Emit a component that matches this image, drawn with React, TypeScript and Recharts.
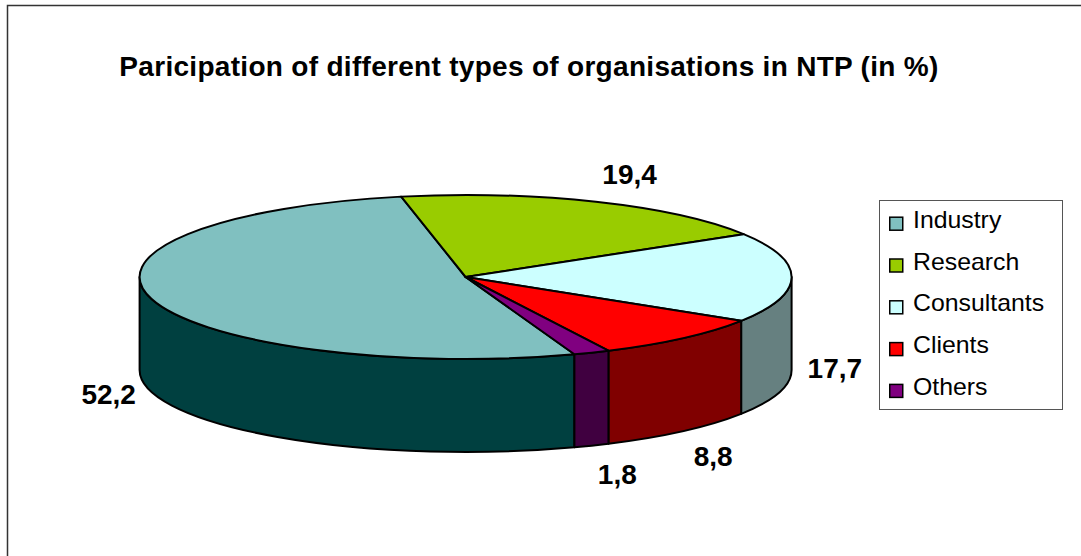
import { PieChart, Pie, Legend } from "recharts";

// ── data ──────────────────────────────────────────────────────────────────────

const categories = ["Industry", "Research", "Consultants", "Clients", "Others"];
const shares = [52.2, 19.4, 17.7, 8.8, 1.8];
const topColors = ["#80C0C0", "#99CC00", "#CCFFFF", "#FF0000", "#800080"];
const sideColors = ["#004040", "#4D6600", "#668080", "#800000", "#400040"];

const chartData = categories.map((name, i) => ({ name, value: shares[i] }));

// ── layout ────────────────────────────────────────────────────────────────────

const W = 1081;
const H = 556;
const CX = 465.6;
const CY = 277;
const RADIUS = 326;
const TILT = 0.2515; // vertical squash of the top face
const DEPTH = 93; // height of the side wall
const FIRST_ANGLE = -70.5; // Excel "first slice angle" ≈ 160.5° clockwise from 12 o'clock
const FONT = "Arial, 'Liberation Sans', sans-serif";

// ── helpers ───────────────────────────────────────────────────────────────────

const rad = (d: number) => (d * Math.PI) / 180;

function pt(cx: number, cy: number, rx: number, ry: number, deg: number, dy = 0) {
  return [cx + rx * Math.cos(rad(deg)), cy - ry * Math.sin(rad(deg)) + dy];
}

function fmt(n: number) {
  return n.toFixed(1).replace(".", ",");
}

// parts of [lo, hi] (math degrees) that face the viewer
function frontRanges(lo: number, hi: number) {
  const out: [number, number][] = [];
  for (let k = -2; k <= 2; k++) {
    const a = Math.max(lo, -180 + 360 * k);
    const b = Math.min(hi, 360 * k);
    if (b - a > 0.01) out.push([a, b]);
  }
  return out;
}

// ── 3D slice, drawn from the sector geometry Recharts computes ───────────────

function renderSlice(props: any) {
  const { cx, cy, outerRadius, startAngle, endAngle, midAngle, index, value } = props;
  const rx = outerRadius;
  const ry = outerRadius * TILT;
  const hi = Math.max(startAngle, endAngle);
  const lo = Math.min(startAngle, endAngle);
  const large = hi - lo > 180 ? 1 : 0;

  const sides = frontRanges(lo, hi).map(([a, b], k) => {
    const [x0, y0] = pt(cx, cy, rx, ry, a);
    const [x1, y1] = pt(cx, cy, rx, ry, b);
    const [x2, y2] = pt(cx, cy, rx, ry, b, DEPTH);
    const [x3, y3] = pt(cx, cy, rx, ry, a, DEPTH);
    const d = `M${x0},${y0} A${rx},${ry} 0 0 0 ${x1},${y1} L${x2},${y2} A${rx},${ry} 0 0 1 ${x3},${y3} Z`;
    return (
      <path key={k} d={d} fill={sideColors[index]} stroke="#000" strokeWidth={2} strokeLinejoin="round" />
    );
  });

  const [sx, sy] = pt(cx, cy, rx, ry, hi);
  const [ex, ey] = pt(cx, cy, rx, ry, lo);
  const top = `M${cx},${cy} L${sx},${sy} A${rx},${ry} 0 ${large} 1 ${ex},${ey} Z`;

  // value label, Excel style: just outside the rim
  const cosM = Math.cos(rad(midAngle));
  const down = -Math.sin(rad(midAngle));
  const lx = cx + (rx + 16) * cosM;
  let ly = cy + (ry + 20) * down + (down > -0.2 ? DEPTH : 0);
  if (down > 0.5) ly += 20;
  else if (down >= -0.5) ly += 7;
  const anchor = cosM > 0.1 ? "start" : cosM < -0.1 ? "end" : "middle";

  return (
    <g>
      {sides}
      <path d={top} fill={topColors[index]} stroke="#000" strokeWidth={2} strokeLinejoin="round" />
      <text x={lx} y={ly} textAnchor={anchor} fontFamily={FONT} fontSize={28} fontWeight="bold" fill="#000">
        {fmt(value)}
      </text>
    </g>
  );
}

// ── legend ────────────────────────────────────────────────────────────────────

function LegendBox() {
  return (
    <svg width={184} height={210} style={{ display: "block" }}>
      <rect x={0.5} y={0.5} width={183} height={209} fill="#fff" stroke="#555" />
      {categories.map((name, i) => {
        const base = 27.7 + i * 41.8;
        return (
          <g key={name}>
            <rect
              x={10.75}
              y={base - 10.5}
              width={13}
              height={13}
              fill={topColors[i]}
              stroke="#000"
              strokeWidth={1.5}
            />
            <text
              transform={`translate(34 ${base}) scale(1.08 1)`}
              fontFamily={FONT}
              fontSize={23}
              fill="#000"
            >
              {name}
            </text>
          </g>
        );
      })}
    </svg>
  );
}

// ── chart ─────────────────────────────────────────────────────────────────────

export default function App() {
  return (
    <div style={{ position: "absolute", left: 0, top: 0, width: W, height: H, background: "#fff" }}>
      <PieChart width={W} height={H} margin={{ top: 0, right: 0, bottom: 0, left: 0 }}>
        <path d={`M7.5,${H + 5} L7.5,5.5 L${W + 5},5.5`} fill="none" stroke="#333" strokeWidth={1.5} />
        <text
          x={529}
          y={76}
          textAnchor="middle"
          fontFamily={FONT}
          fontSize={28}
          fontWeight="bold"
          letterSpacing={0.3}
          fill="#000"
        >
          Paricipation of different types of organisations in NTP (in %)
        </text>
        <Pie
          data={chartData}
          dataKey="value"
          nameKey="name"
          cx={CX}
          cy={CY}
          outerRadius={RADIUS}
          startAngle={FIRST_ANGLE}
          endAngle={FIRST_ANGLE - 360}
          fill="none"
          stroke="none"
          label={renderSlice}
          labelLine={false}
          legendType="square"
          isAnimationActive={false}
        />
        <Legend
          layout="vertical"
          align="right"
          verticalAlign="top"
          content={LegendBox}
          wrapperStyle={{ left: 879, top: 200, width: 184, height: 210 }}
        />
      </PieChart>
    </div>
  );
}
